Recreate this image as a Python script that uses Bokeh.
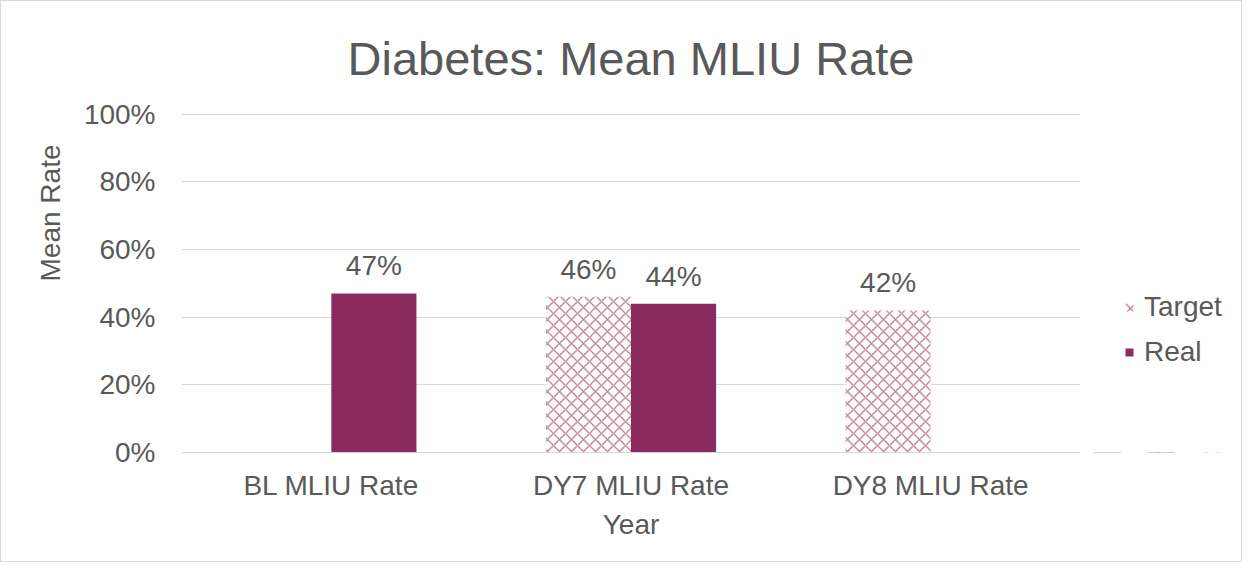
from bokeh.plotting import figure
from bokeh.layouts import row
from bokeh.models import (ColumnDataSource, FactorRange, Range1d, LabelSet,
                          Legend, LegendItem, NumeralTickFormatter, FixedTicker)
from bokeh.transform import dodge
from bokeh.core.properties import value
from bokeh.embed import file_html
from bokeh.resources import INLINE

# ---- data ----
categories = ["BL MLIU Rate", "DY7 MLIU Rate", "DY8 MLIU Rate"]
target = [None, 0.46, 0.42]
real = [0.47, 0.44, None]
y_ticks = [0, 0.2, 0.4, 0.6, 0.8, 1.0]
series_names = ["Target", "Real"]
title_text = "Diabetes: Mean MLIU Rate"
x_title = "Year"
y_title = "Mean Rate"

FONT = "Liberation Sans"
TXT = "#595959"
REAL_COLOR = "#8B2A5E"
HATCH_COLOR = "#C68C9B"
BAR_W = 0.284
OFF = BAR_W / 2
HATCH = dict(fill_color="white", line_color=None, hatch_pattern="diagonal_cross",
             hatch_color=HATCH_COLOR, hatch_scale=12, hatch_weight=1.5)
SOLID = dict(fill_color=REAL_COLOR, line_color=None)

def pick(vals):
    cats = [c for c, v in zip(categories, vals) if v is not None]
    vs = [v for v in vals if v is not None]
    return ColumnDataSource(dict(cat=cats, val=vs,
                                 txt=[f"{round(v * 100)}%" for v in vs]))

src_t = pick(target)
src_r = pick(real)

p = figure(frame_width=899, frame_height=339,
           x_range=FactorRange(*categories, range_padding=0),
           y_range=Range1d(0, 1.002), output_backend="svg", toolbar_location=None,
           min_border_left=180, min_border_right=0, min_border_top=112,
           min_border_bottom=109, title=title_text)
p.x_range.factor_padding = 0
p.outline_line_color = None
p.background_fill_color = "white"
p.border_fill_color = "white"

p.title.align = "center"
p.title.text_font = FONT
p.title.text_font_size = "47px"
p.title.text_font_style = "normal"
p.title.text_color = TXT
p.title.standoff = 57

p.vbar(x=dodge("cat", -OFF, range=p.x_range), top="val", width=BAR_W, source=src_t, **HATCH)
p.vbar(x=dodge("cat", OFF, range=p.x_range), top="val", width=BAR_W, source=src_r, **SOLID)

for src, off in ((src_t, -OFF), (src_r, OFF)):
    p.add_layout(LabelSet(x=dodge("cat", off, range=p.x_range), y="val", text="txt",
                          source=src, text_align="center", text_baseline="bottom",
                          y_offset=12, text_font=value(FONT), text_font_size="28px",
                          text_color=TXT))

# axes
p.xaxis.axis_line_color = "#D9D9D9"
p.xaxis.major_tick_line_color = None
p.xaxis.minor_tick_line_color = None
p.xaxis.major_label_standoff = 11
p.xaxis.major_label_text_font = FONT
p.xaxis.major_label_text_font_size = "28px"
p.xaxis.major_label_text_color = TXT
p.xaxis.axis_label = x_title
p.xaxis.axis_label_standoff = 5
p.xaxis.axis_label_text_font = FONT
p.xaxis.axis_label_text_font_size = "28px"
p.xaxis.axis_label_text_font_style = "normal"
p.xaxis.axis_label_text_color = TXT

p.yaxis.axis_line_color = None
p.yaxis.major_tick_line_color = None
p.yaxis.minor_tick_line_color = None
p.yaxis.ticker = FixedTicker(ticks=y_ticks)
p.yaxis.formatter = NumeralTickFormatter(format="0%")
p.yaxis.major_label_standoff = 20
p.yaxis.major_label_text_font = FONT
p.yaxis.major_label_text_font_size = "28px"
p.yaxis.major_label_text_color = TXT
# leading no-break spaces lift the rotated title above the axis centre, as in the reference
p.yaxis.axis_label = "\u00a0" * 18 + y_title
p.yaxis.axis_label_standoff = 15
p.yaxis.axis_label_text_font = FONT
p.yaxis.axis_label_text_font_size = "28px"
p.yaxis.axis_label_text_font_style = "normal"
p.yaxis.axis_label_text_color = TXT

p.xgrid.grid_line_color = None
p.ygrid.grid_line_color = "#D9D9D9"
p.ygrid.grid_line_width = 1
p.ygrid.ticker = FixedTicker(ticks=y_ticks)

# ---- legend panel: a narrow figure whose frame lines up with the chart's frame ----
# its bars use the same data but sit below its visible range, so only the legend shows
lg = figure(frame_width=161, frame_height=339, min_border_left=0, min_border_right=0,
            min_border_top=112, min_border_bottom=109,
            x_range=FactorRange(*categories), y_range=Range1d(2, 3),
            x_axis_type=None, y_axis_type=None, output_backend="svg",
            toolbar_location=None)
lg.outline_line_color = None
lg.background_fill_color = "white"
lg.border_fill_color = "white"
lg.xgrid.visible = False
lg.ygrid.visible = False
lt = lg.vbar(x="cat", top="val", width=0.5, source=src_t, **HATCH)
lr = lg.vbar(x="cat", top="val", width=0.5, source=src_r, **SOLID)
legend = Legend(items=[LegendItem(label=series_names[0], renderers=[lt]),
                       LegendItem(label=series_names[1], renderers=[lr])],
                location=(44, 84), orientation="vertical",
                label_text_font=FONT, label_text_font_size="28px", label_text_color=TXT,
                glyph_width=10, glyph_height=10, label_height=28, spacing=13,
                label_standoff=10, padding=0, margin=0,
                border_line_color=None, background_fill_alpha=0)
lg.add_layout(legend)

layout = row(p, lg, styles={"border": "1px solid #D9D9D9", "background": "white"})

open("out.html", "w").write(file_html(layout, INLINE))
